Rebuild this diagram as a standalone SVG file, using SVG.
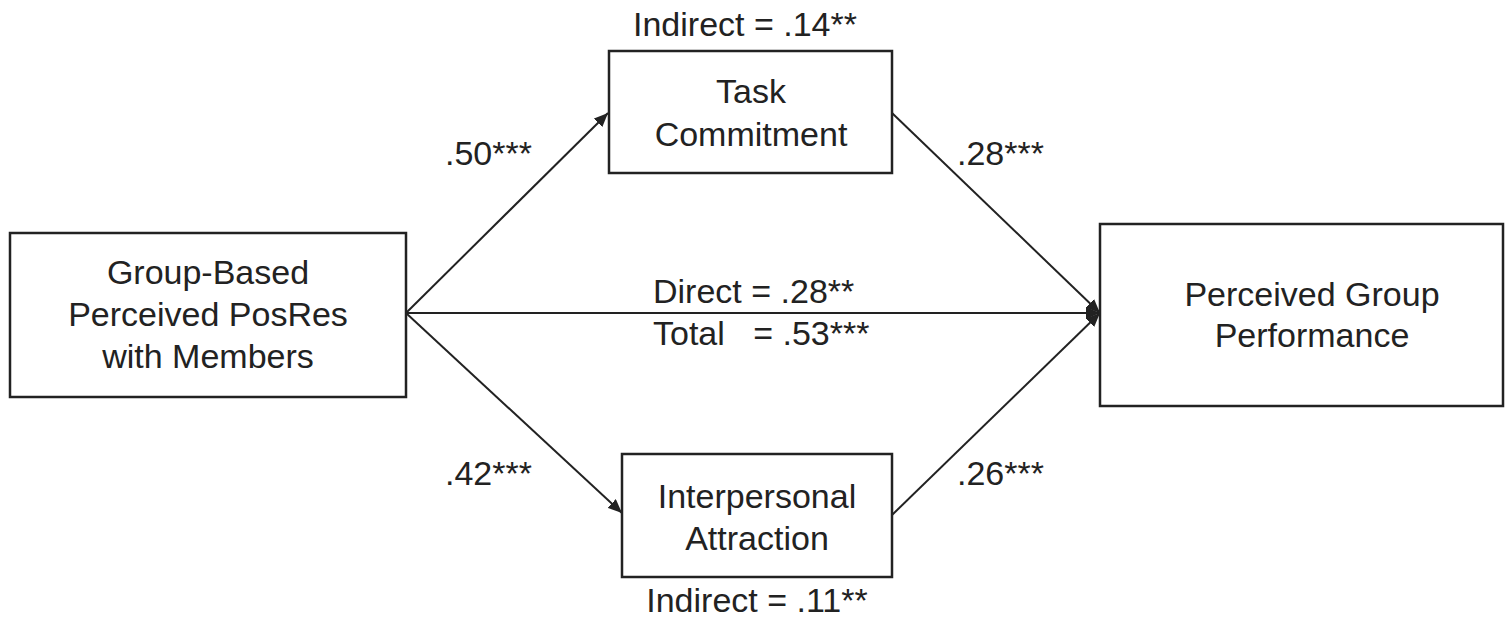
<svg xmlns="http://www.w3.org/2000/svg" width="1506" height="618" viewBox="0 0 1506 618">
  <style>
    .box { fill: #ffffff; stroke: #222222; stroke-width: 2.5; }
    .lbl { font-family: "Liberation Sans", Arial, sans-serif; font-size: 34px; fill: #222222; }
    .mid { text-anchor: middle; }
    .conn { stroke: #222222; stroke-width: 2; fill: none; marker-end: url(#arrow); }
  </style>
  <defs>
    <marker id="arrow" markerUnits="userSpaceOnUse" markerWidth="16" markerHeight="12" refX="14" refY="6" orient="auto">
      <path d="M0,0 L14,6 L0,12 Z" fill="#222222"/>
    </marker>
  </defs>
  <rect width="1506" height="618" fill="#ffffff"/>

  <g id="connectors">
    <line class="conn" x1="406" y1="313" x2="1100" y2="313"/>
    <line class="conn" x1="406" y1="313" x2="608" y2="113"/>
    <line class="conn" x1="406" y1="313" x2="622" y2="513"/>
    <line class="conn" x1="892" y1="113" x2="1100" y2="313"/>
    <line class="conn" x1="892" y1="515" x2="1100" y2="313"/>
  </g>

  <g id="node-predictor">
    <rect class="box" x="10" y="233" width="396" height="164"/>
    <text class="lbl mid" x="208" y="284">Group-Based</text>
    <text class="lbl mid" x="208" y="326">Perceived PosRes</text>
    <text class="lbl mid" x="208" y="368">with Members</text>
  </g>

  <g id="node-task">
    <rect class="box" x="609" y="51" width="283" height="122"/>
    <text class="lbl mid" x="751" y="103">Task</text>
    <text class="lbl mid" x="751" y="146">Commitment</text>
  </g>

  <g id="node-interpersonal">
    <rect class="box" x="622" y="454" width="270" height="123"/>
    <text class="lbl mid" x="757" y="508">Interpersonal</text>
    <text class="lbl mid" x="757" y="550">Attraction</text>
  </g>

  <g id="node-outcome">
    <rect class="box" x="1100" y="224" width="403" height="182"/>
    <text class="lbl mid" x="1312" y="306">Perceived Group</text>
    <text class="lbl mid" x="1312" y="347">Performance</text>
  </g>

  <g id="labels">
    <text class="lbl mid" x="745" y="36">Indirect = .14**</text>
    <text class="lbl mid" x="757" y="612">Indirect = .11**</text>
    <text class="lbl" x="445" y="165">.50***</text>
    <text class="lbl" x="957" y="165">.28***</text>
    <text class="lbl" x="445" y="485">.42***</text>
    <text class="lbl" x="957" y="485">.26***</text>
    <text class="lbl" x="653" y="303">Direct = .28**</text>
    <text class="lbl" x="653" y="345" xml:space="preserve">Total   = .53***</text>
  </g>
</svg>
